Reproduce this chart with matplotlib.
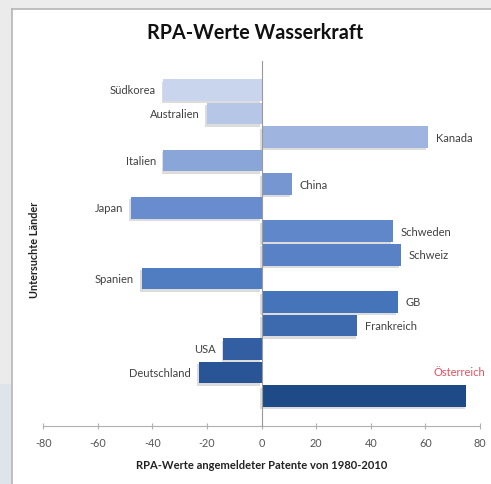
import numpy as np
import matplotlib
matplotlib.use("Agg")
import matplotlib.pyplot as plt
import matplotlib.patheffects as pe
from matplotlib.colors import LinearSegmentedColormap
from matplotlib.patches import Rectangle

# RPA values per country, top to bottom
countries = ["Südkorea", "Australien", "Kanada", "Italien", "China", "Japan",
             "Schweden", "Schweiz", "Spanien", "GB", "Frankreich", "USA",
             "Deutschland", "Österreich"]
rpa = [-36, -20, 61, -36, 11, -48, 48, 51, -44, 50, 35, -14, -23, 75]
xticks = [-80, -60, -40, -20, 0, 20, 40, 60, 80]

plt.rcParams["font.family"] = ["Lato", "DejaVu Sans"]

W, H = 491, 485
fig = plt.figure(figsize=(W / 100, H / 100), dpi=100)
fig.patch.set_facecolor("white")

# frame around the chart area (slide background)
bg = fig.add_axes([0, 0, 1, 1], zorder=-5)
bg.set_xlim(0, W)
bg.set_ylim(H, 0)
bg.axis("off")
bg.add_patch(Rectangle((0, 0), W, 10, color="#ececec", lw=0))
bg.add_patch(Rectangle((0, 0), 12, H, color="#ebebeb", lw=0))
bg.add_patch(Rectangle((0, 385), 12, H - 385, color="#dfe4eb", lw=0))
bg.plot([12, 12], [10, H], color="#b5b5b5", lw=1.2)
bg.plot([12, W], [10, 10], color="#b5b5b5", lw=1.2)

ax = fig.add_axes([43.3 / W, 1 - 427 / H, 436.7 / W, 365 / H])
ax.set_facecolor("none")

cmap = LinearSegmentedColormap.from_list("blues", ["#c9d5ec", "#6e90cf", "#4a78c0", "#1f4a88"])
n = len(countries)
ypos = np.arange(n)
colors = [cmap(i / (n - 1)) for i in range(n)]

bars = ax.barh(ypos, rpa, height=0.92, color=colors, zorder=3)
for b in bars:
    b.set_path_effects([pe.SimplePatchShadow(offset=(-1.2, -1.8), shadow_rgbFace="#a8a8a8", alpha=0.4),
                        pe.Normal()])

lab_fs = 8
for y, v, name in zip(ypos, rpa, countries):
    if name == "Österreich":
        ax.text(82, y - 1.05, name, ha="right", va="center", fontsize=lab_fs, color="#e5505e")
    elif v < 0:
        ax.annotate(name, (v, y), xytext=(-5.5, 0), textcoords="offset points",
                    ha="right", va="center", fontsize=lab_fs, color="#404040")
    else:
        ax.annotate(name, (v, y), xytext=(5.5, 0), textcoords="offset points",
                    ha="left", va="center", fontsize=lab_fs, color="#404040")

ax.set_xlim(-80, 80)
ax.set_ylim(n - 1 + 1.27, -1.23)
ax.set_xticks(xticks)
ax.set_xticklabels([str(t) for t in xticks])
ax.set_yticks([])
ax.tick_params(axis="x", direction="inout", length=4, color="#b0b0b0",
               labelsize=7.8, labelcolor="#555555", pad=6)
for s in ["top", "right"]:
    ax.spines[s].set_visible(False)
ax.spines["left"].set_position(("data", 0))
ax.spines["left"].set_color("#9a9a9a")
ax.spines["bottom"].set_color("#b0b0b0")
ax.spines["left"].set_linewidth(0.8)
ax.spines["bottom"].set_linewidth(0.8)
ax.spines["left"].set_zorder(4)

fig.text(255 / W, 1 - 33 / H, "RPA-Werte Wasserkraft", ha="center", va="center",
         fontsize=14.2, fontweight="bold", color="#111111")
fig.text(262 / W, 1 - 466 / H, "RPA-Werte angemeldeter Patente von 1980-2010",
         ha="center", va="center", fontsize=8, fontweight="bold", color="#222222")
fig.text(35 / W, 1 - 250 / H, "Untersuchte Länder", ha="center", va="center",
         rotation=90, fontsize=7.8, fontweight="bold", color="#222222")

fig.savefig("out.png", dpi=100, facecolor=fig.get_facecolor())
